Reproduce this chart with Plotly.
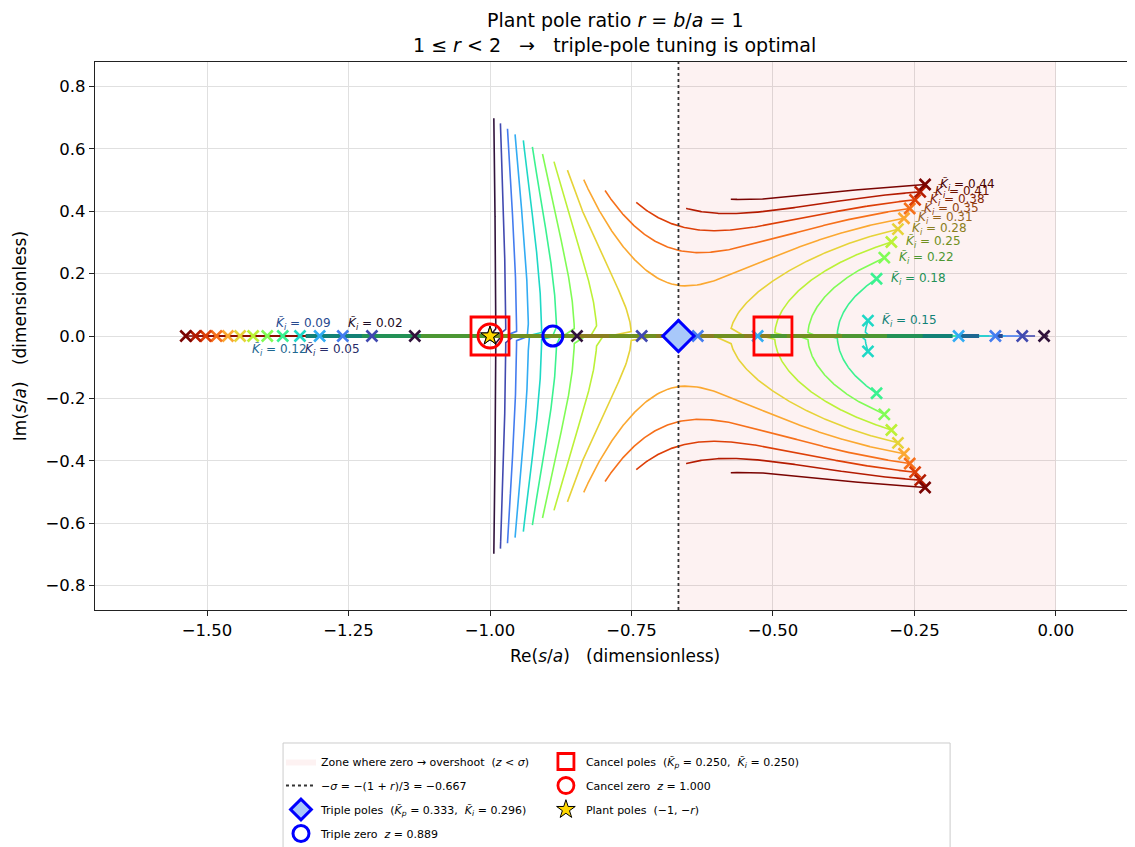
import itertools
import numpy as np
import plotly.graph_objects as go
from plotly.colors import sample_colorscale, unlabel_rgb

# ---------------- data ----------------
R_RATIO = 1.0                      # plant pole ratio r = b/a
KI_VALUES = [0.0200, 0.0526, 0.0853, 0.1179, 0.1506, 0.1832, 0.2159,
             0.2485, 0.2812, 0.3138, 0.3465, 0.3791, 0.4118, 0.4444]
KP_LIMITS = [0.0, 0.5]             # sweep of normalised proportional gain
N_KP = 801

SIGMA_LINE = -0.667                # -sigma = -(1+r)/3
TRIPLE_POLE = [-0.667]
TRIPLE_ZERO = [-0.889]
CANCEL_POLES = [-1.0, -0.5]
CANCEL_ZERO = [-1.0]
PLANT_POLES = [-1.0, -1.0]

X_TICKS = [-1.5, -1.25, -1.0, -0.75, -0.5, -0.25, 0.0]
Y_TICKS = [-0.8, -0.6, -0.4, -0.2, 0.0, 0.2, 0.4, 0.6, 0.8]
X_RANGE = [-1.698, 0.138]
Y_RANGE = [-0.878, 0.878]

FONT = "DejaVu Sans"
KT = "<i>K\u0303</i>"


def track_roots(ki, kp_grid):
    out, prev = [], None
    for kp in kp_grid:
        rts = np.roots([1.0, 1.0 + R_RATIO, R_RATIO + kp, ki])
        if prev is None:
            rts = np.array(sorted(rts, key=lambda z: (z.real, z.imag)))
        else:
            best = min(itertools.permutations(range(3)),
                       key=lambda p: np.sum(np.abs(rts[list(p)] - prev)))
            rts = rts[list(best)]
        out.append(rts)
        prev = rts
    arr = np.array(out)
    arr.imag[np.abs(arr.imag) < 1e-6] = 0.0
    return arr


def runs(mask, extend):
    idx = np.flatnonzero(mask)
    if idx.size == 0:
        return []
    groups = np.split(idx, np.where(np.diff(idx) > 1)[0] + 1)
    res = []
    for g in groups:
        a, b = int(g[0]), int(g[-1])
        if extend:
            a, b = max(a - 1, 0), min(b + 1, len(mask) - 1)
        res.append((a, b))
    return res


kp_grid = np.linspace(KP_LIMITS[0], KP_LIMITS[1], N_KP)
n = len(KI_VALUES)
cols = [tuple(int(round(v)) for v in unlabel_rgb(c))
        for c in sample_colorscale("Turbo", [i / (n - 1) for i in range(n)])]
dark = [tuple(int(v * 0.6) for v in c) for c in cols]
rgb = lambda c: "rgb(%d,%d,%d)" % c

fig = go.Figure()

# zone where zero -> overshoot
fig.add_trace(go.Scatter(
    x=[SIGMA_LINE, 0.0, 0.0, SIGMA_LINE, SIGMA_LINE],
    y=[Y_RANGE[0], Y_RANGE[0], Y_RANGE[1], Y_RANGE[1], Y_RANGE[0]],
    fill="toself", fillcolor="rgba(214,39,40,0.06)", mode="lines",
    line=dict(width=0, color="rgba(214,39,40,0.06)"),
    name="Zone where zero \u2192 overshoot\u00a0\u00a0(<i>z</i> &lt; <i>\u03c3</i>)",
    legend="legend", legendgroup="g1", hoverinfo="skip"))

all_roots = [track_roots(ki, kp_grid) for ki in KI_VALUES]

# thin loci (complex or mixed)
for ki, roots, c in zip(KI_VALUES, all_roots, cols):
    all_real = np.all(roots.imag == 0.0, axis=1)
    xs, ys = [], []
    for b in range(3):
        for a, e in runs(~all_real, True):
            xs += list(roots[a:e + 1, b].real) + [None]
            ys += list(roots[a:e + 1, b].imag) + [None]
    fig.add_trace(go.Scatter(x=xs, y=ys, mode="lines", line=dict(color=rgb(c), width=1.6),
                             showlegend=False, hoverinfo="skip"))

# -sigma line
fig.add_trace(go.Scatter(
    x=[SIGMA_LINE, SIGMA_LINE], y=Y_RANGE, mode="lines",
    line=dict(color="#333333", width=1.8, dash="dot"),
    name="\u2212<i>\u03c3</i> = \u2212(1 + <i>r</i>)/3 = \u22120.667",
    legend="legend", legendgroup="g2", hoverinfo="skip"))

# thick real segments (all three roots real)
for ki, roots, d in zip(KI_VALUES, all_roots, dark):
    all_real = np.all(roots.imag == 0.0, axis=1)
    xs, ys = [], []
    for b in range(3):
        for a, e in runs(all_real, False):
            xs += list(roots[a:e + 1, b].real) + [None]
            ys += list(roots[a:e + 1, b].imag) + [None]
    if xs:
        fig.add_trace(go.Scatter(x=xs, y=ys, mode="lines", line=dict(color=rgb(d), width=4),
                                 showlegend=False, hoverinfo="skip"))

# x markers at Kp = 0 and labels
annotations = []
for i, (ki, roots, c, d) in enumerate(zip(KI_VALUES, all_roots, cols, dark)):
    r0 = roots[0]
    fig.add_trace(go.Scatter(
        x=r0.real, y=r0.imag, mode="markers",
        marker=dict(symbol="x-thin", size=11, color=rgb(c),
                    line=dict(color=rgb(c), width=2.6)),
        showlegend=False, hoverinfo="skip"))
    label = "%s<sub><i>i</i></sub> = %.2f" % (KT, ki)
    if np.any(r0.imag > 0):
        up = r0[np.argmax(r0.imag)]
        annotations.append(dict(x=up.real + 0.022, y=up.imag, text=label, xanchor="left",
                                yanchor="middle", showarrow=False,
                                font=dict(size=12, color=rgb(d), family=FONT)))
    else:
        left = r0[np.argmin(r0.real)]
        yy = 0.04 if i % 2 == 0 else -0.045
        annotations.append(dict(x=left.real - 0.018, y=yy, text=label, xanchor="right",
                                yanchor="middle", showarrow=False,
                                font=dict(size=12, color=rgb(d), family=FONT)))

# special markers
fig.add_trace(go.Scatter(
    x=TRIPLE_POLE, y=[0.0] * len(TRIPLE_POLE), mode="markers",
    marker=dict(symbol="diamond", size=24, color="#a8c8fa", line=dict(color="#0000ff", width=3)),
    name="Triple poles\u00a0\u00a0(%s<sub><i>p</i></sub> = 0.333,\u00a0\u00a0%s<sub><i>i</i></sub> = 0.296)" % (KT, KT),
    legend="legend", legendgroup="g3"))
fig.add_trace(go.Scatter(
    x=TRIPLE_ZERO, y=[0.0] * len(TRIPLE_ZERO), mode="markers",
    marker=dict(symbol="circle-open", size=20, color="#0000ff", line=dict(color="#0000ff", width=3)),
    name="Triple zero\u00a0\u00a0<i>z</i> = 0.889",
    legend="legend", legendgroup="g4"))
fig.add_trace(go.Scatter(
    x=CANCEL_POLES, y=[0.0] * len(CANCEL_POLES), mode="markers",
    marker=dict(symbol="square-open", size=38, color="#ff0000", line=dict(color="#ff0000", width=2.8)),
    name="Cancel poles\u00a0\u00a0(%s<sub><i>p</i></sub> = 0.250,\u00a0\u00a0%s<sub><i>i</i></sub> = 0.250)" % (KT, KT),
    legend="legend2", legendgroup="h1"))
fig.add_trace(go.Scatter(
    x=CANCEL_ZERO, y=[0.0] * len(CANCEL_ZERO), mode="markers",
    marker=dict(symbol="circle-open", size=24, color="#ff0000", line=dict(color="#ff0000", width=2.8)),
    name="Cancel zero\u00a0\u00a0<i>z</i> = 1.000",
    legend="legend2", legendgroup="h2"))
fig.add_trace(go.Scatter(
    x=PLANT_POLES, y=[0.0] * len(PLANT_POLES), mode="markers",
    marker=dict(symbol="star", size=14, color="#ffd700", line=dict(color="#000000", width=1)),
    name="Plant poles\u00a0\u00a0(\u22121, \u2212<i>r</i>)",
    legend="legend2", legendgroup="h3"))

# titles
annotations += [
    dict(x=0.5, y=1.0766, xref="paper", yref="paper", showarrow=False, yanchor="middle",
         text="Plant pole ratio <i>r</i> = <i>b</i>/<i>a</i> = 1",
         font=dict(size=19, color="black", family=FONT)),
    dict(x=0.5, y=1.031, xref="paper", yref="paper", showarrow=False, yanchor="middle",
         text="1 \u2264 <i>r</i> &lt; 2\u00a0\u00a0\u00a0\u2192\u00a0\u00a0\u00a0triple-pole tuning is optimal",
         font=dict(size=19, color="black", family=FONT)),
    dict(x=0.5, y=-0.084, xref="paper", yref="paper", showarrow=False, yanchor="middle",
         text="Re(<i>s</i>/<i>a</i>)\u00a0\u00a0\u00a0(dimensionless)",
         font=dict(size=17, color="black", family=FONT)),
    dict(x=-0.072, y=0.5, xref="paper", yref="paper", showarrow=False, textangle=-90,
         xanchor="center", yanchor="middle",
         text="Im(<i>s</i>/<i>a</i>)\u00a0\u00a0\u00a0(dimensionless)",
         font=dict(size=17, color="black", family=FONT)),
]

axis_common = dict(showline=True, mirror=True, linecolor="#222222", linewidth=1.3,
                   ticks="outside", ticklen=5, tickwidth=1.2, tickcolor="#222222",
                   showgrid=True, gridcolor="#e0e0e0", gridwidth=1, zeroline=False,
                   automargin=False,
                   tickfont=dict(size=16.5, color="black", family=FONT))

# the page body adds an 8 px offset, so the figure is 8 px smaller and margins shifted
fig.update_layout(
    width=1127, height=839,
    margin=dict(l=87, r=1, t=54, b=237, autoexpand=False),
    paper_bgcolor="white", plot_bgcolor="white",
    font=dict(family=FONT, color="black"),
    xaxis=dict(range=X_RANGE, tickvals=X_TICKS, tickformat=".2f", **axis_common),
    yaxis=dict(range=Y_RANGE, tickvals=Y_TICKS, tickformat=".1f", **axis_common),
    annotations=annotations,
    legend=dict(x=0.179, y=-0.250, xanchor="left", yanchor="top", bgcolor="rgba(0,0,0,0)",
                font=dict(size=11, family=FONT), tracegroupgap=5, traceorder="grouped"),
    legend2=dict(x=0.434, y=-0.250, xanchor="left", yanchor="top", bgcolor="rgba(0,0,0,0)",
                 font=dict(size=11, family=FONT), tracegroupgap=5, traceorder="grouped"),
    shapes=[dict(type="rect", xref="paper", yref="paper", x0=0.181, x1=0.823,
                 y0=-0.46, y1=-0.2427, line=dict(color="#cccccc", width=1),
                 fillcolor="rgba(255,255,255,0.8)", layer="below")],
    showlegend=True,
)

fig.write_html("out.html")
